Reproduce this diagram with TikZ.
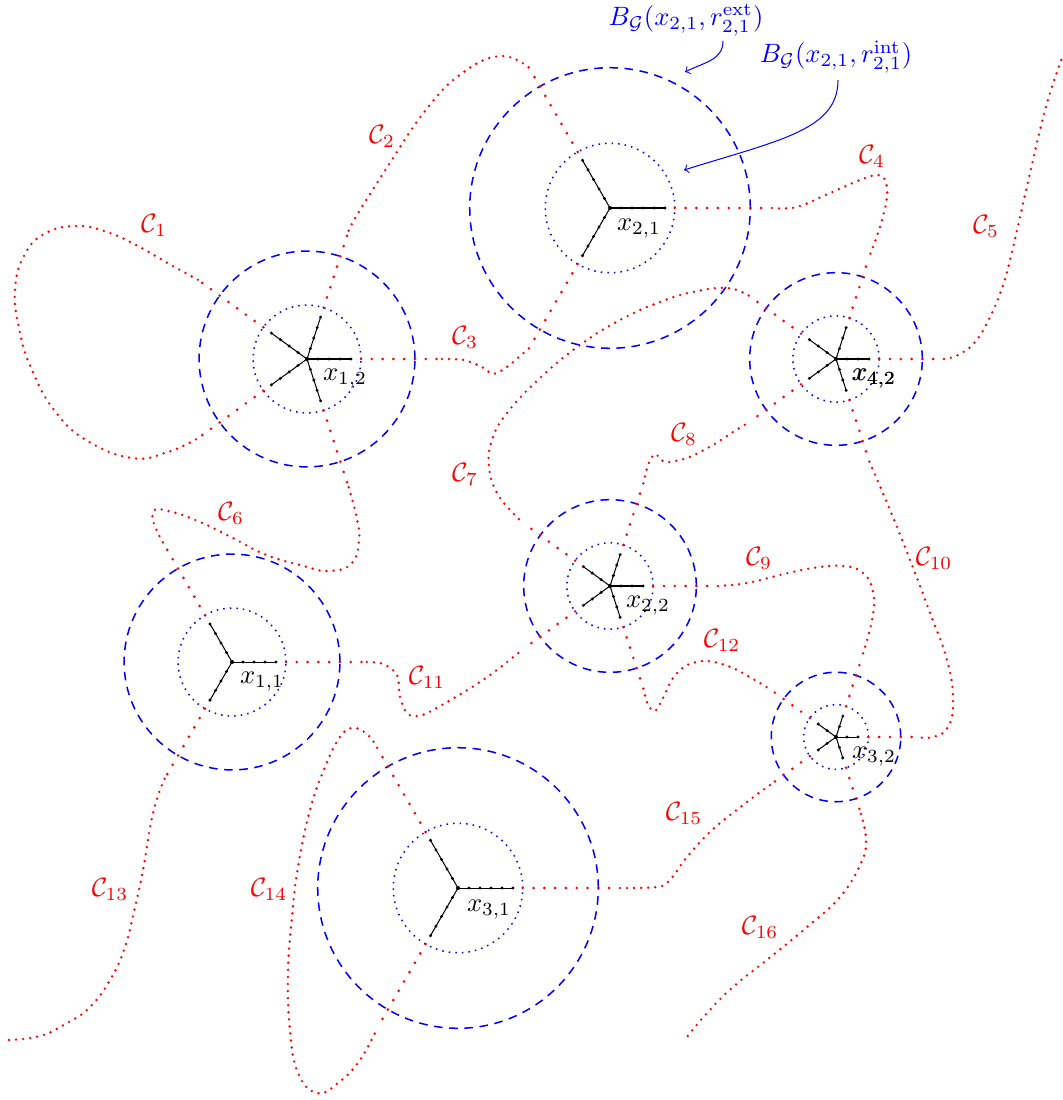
\documentclass[tikz,border=0pt]{standalone}
\usepackage{amssymb}
\usepackage{mathtools}
\usetikzlibrary{calc}

\newcommand{\dblstruck}[1]{\rlap{$#1$}\kern0.22pt$#1$}

\tikzset{
    innerball/.style={circle, draw=blue, line width=0.6pt, dotted, inner sep=0pt, outer sep=0pt},
    outerball/.style={circle, draw=blue, line width=0.6pt, dash pattern=on 3.4pt off 2.6pt, inner sep=0pt, outer sep=0pt},
    leg/.style={black, line width=0.4pt},
    radial/.style={red, line width=1.15pt, line cap=round, dash pattern=on 0pt off 4.27pt},
    curve/.style={red, line width=1.05pt, line cap=round, dash pattern=on 0pt off 2.8pt, smooth, tension=0.75},
    curvename/.style={red, inner sep=0pt, scale=1.05},
    ptname/.style={black, inner sep=0pt, scale=1.05},
    ballname/.style={blue, inner sep=0pt, scale=1.05},
    ballarrow/.style={blue, ->, line width=0.4pt},
}

\begin{document}
\begin{tikzpicture}[x=0.0139cm, y=-0.0139cm]
    \useasboundingbox (0,0) rectangle (1062,1100);

    \foreach \nm/\px/\py/\rin/\rout/\angs/\segs in {
        x12/307/359/1.5/3/{0,72,144,-144,-72}/4,
        x21/610/208/1.8/3.9/{0,120,-120}/5,
        x42/836/359/1.2/2.4/{0,72,144,-144,-72}/3,
        x22/610/586/1.2/2.4/{0,72,144,-144,-72}/3,
        x11/232/662/1.5/3/{0,120,-120}/4,
        x32/836/737/0.9/1.8/{0,72,144,-144,-72}/2,
        x31/458/888/1.8/3.9/{0,120,-120}/5%
    } {
        \node[innerball, minimum size=\rin cm] (\nm) at (\px,\py) {};
        \node[outerball, minimum size=\rout cm] (ext\nm) at (\px,\py) {};
        \fill (\nm.center) circle (0.8pt);
        \foreach \a in \angs {
            \draw[leg] (\nm.center) -- ++(\a:\segs*11) coordinate (tip\nm\a);
            \foreach \k in {1,...,\segs} {
                \fill (\nm.center) ++(\a:\k*11) circle (0.65pt);
            }
            \coordinate (\nm o\a) at ($(\nm.center)!2.5!(\nm.\a)$);
            \draw[radial] (\nm.\a) -- (\nm o\a);
        }
    }

    \node[ptname] (n12) at (345,379) {$x_{1,2}$};
    \node[ptname] (n21) at (639,229) {$x_{2,1}$};
    \node[ptname] (n42) at (874,379) {\dblstruck{x_{4,2}}};
    \node[ptname] (n22) at (648,606) {$x_{2,2}$};
    \node[ptname] (n11) at (262,682) {$x_{1,1}$};
    \node[ptname] (n32) at (874,757) {$x_{3,2}$};
    \node[ptname] (n31) at (489,910) {$x_{3,1}$};

    \coordinate (end5) at (1062,58);
    \coordinate (end13) at (8,1040);
    \coordinate (end16) at (687,1037);

    \draw[curve] plot coordinates {(x12o144) (171,265) (136,245) (107,232) (77,226) (46,233) (25,254) (15,290) (20,333) (32,370) (54,410) (86,440) (132,458) (168,452) (x12o-144)};
    \draw[curve] plot coordinates {(x12o72) (357,215) (386,169) (425,111) (461,74) (500,56) (x21o120)};
    \draw[curve, tension=0.45] plot coordinates {(x12o0) (464,360) (482,367) (493,374) (507,367) (x21o-120)};
    \draw[curve, tension=0.6] plot coordinates {(x21o0) (797,207) (830,193) (860,180) (877,175) (885,180) (887,197) (880,227) (x42o72)};
    \draw[curve] plot coordinates {(x42o0) (958,355) (975,342) (990,317) (1002,288) (1010,260) (1020,217) (1030,173) (1040,130) (1050,93) (end5)};
    \draw[curve] plot coordinates {(x12o-72) (357,519) (359,540) (352,563) (329,571) (300,565) (264,554) (229,536) (193,519) (164,510) (154,511) (154,524) (x11o120)};
    \draw[curve] plot coordinates {(x42o144) (727,288) (693,292) (660,302) (620,320) (580,345) (540,378) (507,413) (492,440) (489,467) (497,493) (513,513) (x22o144)};
    \draw[curve, tension=0.5] plot coordinates {(x22o72) (648,465) (655,454) (665,462) (687,458) (713,445) (733,432) (x42o-144)};
    \draw[curve] plot coordinates {(x22o0) (747,583) (780,575) (813,568) (843,566) (863,573) (873,592) (872,620) (x32o72)};
    \draw[curve] plot coordinates {(x42o-72) (890,510) (910,560) (930,613) (947,660) (953,700) (948,727) (933,737) (x32o0)};
    \draw[curve, tension=0.6] plot coordinates {(x11o0) (383,664) (397,675) (400,697) (407,713) (417,716) (433,710) (483,680) (x22o-144)};
    \draw[curve, tension=0.5] plot coordinates {(x22o-72) (648,705) (655,711) (662,700) (673,678) (687,665) (707,661) (733,668) (x32o144)};
    \draw[curve] plot coordinates {(x11o-120) (153,813) (143,870) (135,907) (125,947) (110,980) (90,1007) (67,1023) (40,1036) (end13)};
    \draw[curve] plot coordinates {(x31o120) (368,735) (353,728) (340,737) (325,767) (310,810) (298,867) (292,917) (288,973) (290,1030) (298,1073) (317,1093) (338,1083) (360,1060) (x31o-120)};
    \draw[curve, tension=0.6] plot coordinates {(x31o0) (657,887) (670,880) (687,857) (712,830) (747,802) (x32o-144)};
    \draw[curve] plot coordinates {(x32o-72) (866,840) (861,863) (840,897) (807,927) (773,955) (733,987) (707,1013) (end16)};

    \node[curvename] (c1) at (154,225) {$\mathcal{C}_1$};
    \node[curvename] (c2) at (382,136) {$\mathcal{C}_2$};
    \node[curvename] (c3) at (465,337) {$\mathcal{C}_3$};
    \node[curvename] (c4) at (872,156) {$\mathcal{C}_4$};
    \node[curvename] (c5) at (986,226) {$\mathcal{C}_5$};
    \node[curvename] (c6) at (231,513) {$\mathcal{C}_6$};
    \node[curvename] (c7) at (465,474) {$\mathcal{C}_7$};
    \node[curvename] (c8) at (684,434) {$\mathcal{C}_8$};
    \node[curvename] (c9) at (759,558) {$\mathcal{C}_9$};
    \node[curvename] (c10) at (934,558) {$\mathcal{C}_{10}$};
    \node[curvename] (c11) at (427,677) {$\mathcal{C}_{11}$};
    \node[curvename] (c12) at (722,640) {$\mathcal{C}_{12}$};
    \node[curvename] (c13) at (110,889) {$\mathcal{C}_{13}$};
    \node[curvename] (c14) at (269,889) {$\mathcal{C}_{14}$};
    \node[curvename] (c15) at (684,813) {$\mathcal{C}_{15}$};
    \node[curvename] (c16) at (760,927) {$\mathcal{C}_{16}$};

    \node[ballname] (ballext) at (686,20) {$B_{\mathcal{G}}(x_{2,1},r_{2,1}^{\mathrm{ext}})$};
    \node[ballname] (ballint) at (836,57) {$B_{\mathcal{G}}(x_{2,1},r_{2,1}^{\mathrm{int}})$};
    \coordinate (extstart) at (723,41);
    \coordinate (extend) at (685,72);
    \coordinate (intstart) at (838,80);
    \coordinate (intend) at (684,170);
    \draw[ballarrow] (extstart) .. controls (723,60) and (705,62) .. (extend);
    \draw[ballarrow] (intstart) .. controls (838,130) and (780,140) .. (intend);
\end{tikzpicture}
\end{document}
